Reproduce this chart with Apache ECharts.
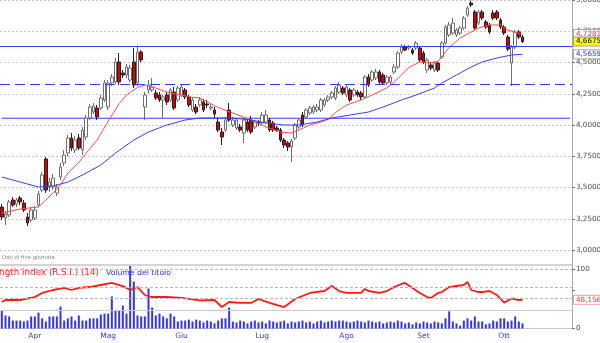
<!DOCTYPE html>
<html><head><meta charset="utf-8">
<script src="https://cdn.jsdelivr.net/npm/echarts@6/dist/echarts.min.js"></script>
<style>html,body{margin:0;padding:0;background:#fff}#c{width:600px;height:343px}</style>
</head><body><div id="c"></div>
<script>
// ---- categories ----
const startDate = '2009-03-19';
const holidays = ['2009-04-10','2009-04-13','2009-05-01'];
const totalSlots = 156;
const monthNames = ['Gen','Feb','Mar','Apr','Mag','Giu','Lug','Ago','Set','Ott','Nov','Dic'];

// ---- price ticks ----
const priceMin = 3.0, priceMax = 5.0, priceStep = 0.25;

// ---- candles [open, close, low, high] ----
const ohlc = [
[3.344,3.264,3.240,3.368],[3.256,3.288,3.200,3.312],[3.280,3.384,3.264,3.400],[3.400,3.360,3.344,3.424],
[3.368,3.400,3.344,3.416],[3.416,3.384,3.360,3.432],[3.376,3.320,3.304,3.400],[3.264,3.216,3.192,3.296],
[3.240,3.320,3.224,3.344],[3.256,3.320,3.240,3.352],[3.360,3.448,3.344,3.472],[3.480,3.600,3.464,3.624],
[3.728,3.480,3.456,3.744],[3.504,3.544,3.464,3.576],[3.504,3.576,3.480,3.608],[3.456,3.504,3.432,3.528],
[3.584,3.664,3.560,3.696],[3.696,3.760,3.672,3.800],[3.776,3.896,3.752,3.920],[3.896,3.816,3.792,3.936],
[3.800,3.880,3.776,3.912],[3.896,3.816,3.800,3.928],[3.800,3.960,3.760,3.984],[3.904,4.056,3.880,4.080],
[4.056,4.144,4.040,4.168],[4.104,4.152,4.088,4.176],[4.136,4.064,4.040,4.160],[4.136,4.216,4.120,4.240],
[4.200,4.336,4.184,4.360],[4.144,4.336,4.120,4.360],[4.336,4.384,4.312,4.408],[4.344,4.504,4.328,4.536],
[4.504,4.344,4.320,4.576],[4.416,4.400,4.376,4.440],[4.400,4.464,4.376,4.488],[4.360,4.456,4.344,4.480],
[4.504,4.320,4.296,4.616],[4.336,4.584,4.312,4.624],[4.584,4.520,4.504,4.600],[4.144,4.240,4.040,4.264],
[4.280,4.320,4.256,4.360],[4.280,4.304,4.264,4.376],[4.256,4.216,4.200,4.280],[4.240,4.200,4.184,4.264],
[4.200,4.224,4.056,4.240],[4.240,4.184,4.160,4.264],[4.200,4.280,4.184,4.296],[4.264,4.136,4.120,4.304],
[4.200,4.296,4.184,4.312],[4.240,4.304,4.224,4.328],[4.280,4.224,4.208,4.296],[4.224,4.160,4.144,4.240],
[4.120,4.200,4.104,4.216],[4.144,4.104,4.088,4.168],[4.160,4.200,4.144,4.224],[4.184,4.120,4.104,4.208],
[4.168,4.160,4.136,4.200],[4.136,4.144,4.120,4.168],[4.120,4.088,4.056,4.144],[4.024,3.960,3.944,4.056],
[3.944,3.904,3.840,3.976],[3.960,4.040,3.944,4.064],[4.120,4.040,4.024,4.176],[4.000,4.040,3.984,4.064],
[3.976,4.040,3.960,4.056],[3.984,3.960,3.944,4.008],[3.936,4.040,3.856,4.056],[4.024,3.960,3.944,4.040],
[4.040,3.944,3.928,4.072],[3.984,4.024,3.968,4.040],[4.024,4.016,3.992,4.040],[4.016,4.080,4.000,4.104],
[4.024,4.080,4.008,4.120],[4.040,3.960,3.944,4.056],[4.016,3.960,3.944,4.032],[3.976,3.960,3.944,3.992],
[3.960,3.880,3.864,3.976],[3.880,3.840,3.816,3.896],[3.856,3.824,3.792,3.872],[3.824,3.872,3.704,3.888],
[3.896,4.000,3.880,4.016],[3.984,4.040,3.968,4.056],[4.080,4.000,3.984,4.104],[4.064,4.120,4.048,4.136],
[4.096,4.136,4.080,4.152],[4.104,4.144,4.088,4.160],[4.120,4.144,4.104,4.168],[4.120,4.200,4.104,4.216],
[4.160,4.200,4.144,4.216],[4.200,4.224,4.184,4.240],[4.224,4.256,4.208,4.272],[4.216,4.296,4.200,4.312],
[4.264,4.320,4.248,4.344],[4.296,4.256,4.240,4.312],[4.240,4.304,4.224,4.328],[4.280,4.200,4.184,4.296],
[4.240,4.280,4.224,4.296],[4.264,4.240,4.224,4.280],[4.256,4.224,4.200,4.272],[4.224,4.384,4.208,4.400],
[4.384,4.320,4.304,4.408],[4.360,4.424,4.344,4.440],[4.376,4.424,4.360,4.448],[4.424,4.344,4.328,4.440],
[4.400,4.336,4.320,4.416],[4.336,4.384,4.320,4.400],[4.344,4.384,4.328,4.400],[4.424,4.464,4.408,4.488],
[4.464,4.576,4.448,4.592],[4.584,4.624,4.568,4.648],[4.624,4.600,4.592,4.640],[4.616,4.624,4.600,4.640],
[4.600,4.576,4.560,4.616],[4.616,4.656,4.600,4.672],[4.616,4.520,4.504,4.632],[4.576,4.504,4.488,4.592],
[4.440,4.520,4.416,4.536],[4.480,4.456,4.440,4.504],[4.440,4.496,4.424,4.512],[4.496,4.440,4.424,4.512],
[4.544,4.656,4.528,4.672],[4.656,4.784,4.640,4.800],[4.720,4.800,4.704,4.824],[4.736,4.816,4.720,4.856],
[4.720,4.760,4.704,4.776],[4.736,4.776,4.720,4.792],[4.776,4.856,4.760,4.872],[4.880,4.936,4.864,4.952],
[4.976,4.960,4.944,4.996],[4.904,4.776,4.760,4.920],[4.816,4.904,4.800,4.920],[4.904,4.856,4.840,4.920],
[4.824,4.784,4.768,4.840],[4.800,4.744,4.728,4.816],[4.896,4.856,4.840,4.920],[4.904,4.856,4.840,4.920],
[4.840,4.784,4.768,4.856],[4.784,4.736,4.720,4.800],[4.704,4.608,4.592,4.720],[4.496,4.624,4.312,4.640],
[4.624,4.744,4.608,4.760],[4.744,4.704,4.688,4.760],[4.704,4.6675,4.656,4.720]
];

// ---- moving averages, read at sample days [dayIndex, value] ----
const maShort = [[0,3.296],[5,3.328],[10,3.344],[12,3.40],[14,3.456],[16,3.52],[18,3.616],[21,3.70],[23,3.776],
[26,3.88],[29,4.03],[32,4.17],[34,4.24],[37,4.30],[39,4.32],[41,4.306],[45,4.264],[49,4.24],[51,4.225],[54,4.216],
[59,4.14],[63,4.096],[68,4.04],[72,3.985],[76,3.944],[79,3.936],[81,3.96],[84,4.0],[87,4.024],[89,4.045],[91,4.10],
[94,4.16],[98,4.20],[101,4.24],[105,4.296],[107,4.344],[109,4.40],[111,4.46],[114,4.504],[117,4.496],[119,4.51],
[122,4.62],[125,4.696],[128,4.744],[130,4.776],[133,4.80],[136,4.80],[138,4.76],[140,4.742],[142,4.7281]];
const maLong = [[0,3.584],[5,3.544],[10,3.504],[14,3.512],[18,3.544],[22,3.60],[27,3.68],[31,3.776],[36,3.88],
[40,3.944],[45,4.0],[50,4.04],[54,4.056],[63,4.056],[68,4.04],[72,4.016],[77,4.0],[81,4.0],[86,4.024],[90,4.056],
[95,4.08],[100,4.104],[104,4.144],[109,4.2],[113,4.24],[118,4.296],[120,4.336],[124,4.40],[128,4.464],[131,4.504],
[135,4.536],[139,4.56],[142,4.5659]];

// ---- support / resistance levels ----
const levelHigh = 4.632, levelMid = 4.326, levelLow = 4.054;

// ---- RSI (14), read at sample days ----
const rsiPts = [[0,44.5],[1,47.9],[5,47.9],[9,52.9],[11,59.7],[14,64.7],[17,68.1],[19,64.7],[21,68.1],[24,69.7],
[27,73.1],[30,76.5],[33,71.4],[35,64.7],[37,69.7],[39,56.3],[41,52.9],[45,52.9],[49,51.3],[51,49.6],[54,47.1],
[58,47.9],[60,36.1],[62,44.5],[65,42.9],[68,42.9],[70,49.6],[73,42.9],[77,36.1],[80,49.6],[84,59.7],[88,63.0],
[90,71.4],[92,63.0],[94,59.7],[98,59.7],[99,66.4],[100,63.0],[103,59.7],[105,63.0],[107,69.7],[109,74.8],[110,76.5],
[112,68.1],[114,59.7],[116,52.9],[117,51.3],[119,59.7],[120,61.3],[122,69.7],[124,71.4],[126,73.1],[127,78.2],
[128,64.7],[130,61.3],[131,61.3],[133,63.0],[135,56.3],[137,43.5],[139,50.4],[141,47.9],[142,48.156]];
const rsiLevels = [100, 70, 50];
const rsiFloor = 30;

// ---- volume (millions) ----
const volume = [
5.7,4.1,3.8,2.5,2.5,2.5,2.2,2.5,3.8,3.8,5.0,3.2,2.2,3.8,3.8,3.8,6.9,2.5,3.2,3.8,2.5,4.1,2.5,2.5,3.2,3.2,3.2,4.4,4.7,4.7,
10.1,5.7,5.7,7.2,4.7,19.8,14.8,4.1,3.8,3.8,12.6,6.6,4.1,4.7,3.8,3.2,4.7,3.8,2.2,2.5,2.5,2.8,2.2,2.8,
2.5,1.9,2.5,2.2,1.6,2.5,3.2,3.2,6.6,2.2,1.9,2.5,2.2,1.6,2.2,2.5,1.9,2.2,1.6,2.5,2.2,1.9,2.2,2.5,1.6,2.2,
1.9,2.2,2.5,1.9,2.2,1.6,2.2,2.5,1.9,2.2,2.5,2.2,2.5,2.5,2.2,1.9,2.2,2.5,2.2,1.9,2.5,
2.2,1.9,2.2,1.6,1.9,2.2,1.9,2.5,2.2,1.6,1.9,1.3,1.9,1.6,2.2,1.9,1.6,2.2,1.9,
1.6,3.2,5.4,2.2,1.6,0.9,2.5,3.2,2.5,3.8,2.2,2.2,1.3,1.6,2.5,2.2,3.2,3.2,2.2,2.5,3.8,2.2,1.6];

// ---- build ----
function tradingDays(start, n, hol) {
  const out = []; const d = new Date(start + 'T12:00:00Z');
  while (out.length < n) {
    const wd = d.getUTCDay(); const s = d.toISOString().slice(0, 10);
    if (wd !== 0 && wd !== 6 && hol.indexOf(s) < 0) out.push(s);
    d.setUTCDate(d.getUTCDate() + 1);
  }
  return out;
}
const dates = tradingDays(startDate, totalSlots, holidays);
const isMonthStart = (i) => i > 0 && dates[i] && dates[i].slice(5, 7) !== dates[i - 1].slice(5, 7);
function expand(pts) {
  const a = new Array(ohlc.length).fill(null);
  pts.forEach(p => { a[p[0]] = p[1]; });
  return a;
}
const comma = (v, d) => v.toFixed(d).replace('.', ',');
const FONT = 'DejaVu Sans';
const LEVEL_BLUE = '#3b3bf3';
const lastClose = ohlc[ohlc.length - 1][1];
const lastShort = maShort[maShort.length - 1][1];
const lastLong = maLong[maLong.length - 1][1];
const lastRsi = rsiPts[rsiPts.length - 1][1];
const rsiMax = 106.7;

function tagAxis(grid, min, max, v, dec, color, bg, border, z) {
  return { type: 'value', gridIndex: grid, position: 'right', min: min, max: max, z: z,
    axisLine: { show: false }, axisTick: { show: false }, splitLine: { show: false },
    axisLabel: { customValues: [v], formatter: () => comma(v, dec), color: color,
      backgroundColor: bg, borderColor: border, borderWidth: 1, padding: [1, 2, 0, 2],
      fontSize: 7.2, fontFamily: FONT, margin: 2 } };
}

const chart = echarts.init(document.getElementById('c'), null, { renderer: 'canvas' });
chart.setOption({
  animation: false,
  grid: [
    { left: 0, right: 28, top: 0, height: 250, outerBoundsMode: 'none', containLabel: false },
    { left: 0, right: 28, top: 265, bottom: 14.5, outerBoundsMode: 'none', containLabel: false }
  ],
  xAxis: [
    { type: 'category', gridIndex: 0, data: dates, boundaryGap: true, show: false },
    { type: 'category', gridIndex: 1, data: dates, boundaryGap: true,
      axisLine: { lineStyle: { color: '#c8c8c8' } },
      axisTick: { alignWithLabel: true, interval: (i) => isMonthStart(i), length: 4, lineStyle: { color: '#5a5ad0' } },
      axisLabel: { interval: (i) => isMonthStart(i), formatter: (v) => monthNames[+v.slice(5, 7) - 1],
        color: '#3a3ac8', fontSize: 7.5, fontFamily: FONT, margin: 4 },
      splitLine: { show: false } }
  ],
  yAxis: [
    { type: 'value', gridIndex: 0, position: 'right', min: priceMin, max: priceMax, interval: priceStep,
      axisLine: { show: true, lineStyle: { color: '#aaaaaa' } },
      axisTick: { show: true, length: 3, lineStyle: { color: '#777' } },
      axisLabel: { formatter: (v) => comma(v, 4), color: '#4a4a4a', fontSize: 7.2, fontFamily: FONT, margin: 4 },
      splitLine: { lineStyle: { color: '#c8c8c8', type: [2, 2] } } },
    { type: 'value', gridIndex: 1, position: 'right', min: 0, max: rsiMax,
      axisLine: { show: true, lineStyle: { color: '#aaaaaa' } },
      axisTick: { show: true, length: 3, customValues: [0, 63.5, 100], lineStyle: { color: '#777' } },
      axisLabel: { customValues: [0, 100], formatter: (v) => String(v), color: '#4a4a4a', fontSize: 7.2, fontFamily: FONT, margin: 4 },
      splitLine: { show: false } },
    { type: 'value', gridIndex: 1, min: 0, max: 20, show: false },
    tagAxis(0, priceMin, priceMax, lastShort, 4, '#ff3030', '#ffffff', '#aaaaaa', 3),
    tagAxis(0, priceMin, priceMax, lastClose, 4, '#000000', '#ffff00', '#999999', 4),
    tagAxis(0, priceMin, priceMax, lastLong, 4, '#3030e0', '#ffffff', '#aaaaaa', 5),
    tagAxis(1, 0, rsiMax, lastRsi, 3, '#ff3030', '#ffffff', '#f0a0a0', 3)
  ],
  series: [
    { type: 'bar', xAxisIndex: 1, yAxisIndex: 2, data: volume, barWidth: 2,
      itemStyle: { color: '#3434f0' }, silent: true },
    { type: 'line', xAxisIndex: 1, yAxisIndex: 1, data: expand(rsiPts), connectNulls: true,
      symbol: 'none', lineStyle: { color: '#ff1a1a', width: 1.8 }, silent: true, z: 3,
      markLine: { silent: true, symbol: 'none', animation: false, data: [
        { yAxis: rsiMax, label: { show: false }, lineStyle: { color: '#d4d4d4', width: 2, type: 'solid' } },
        ...rsiLevels.map(v => ({ yAxis: v, label: { show: false }, lineStyle: { color: '#bbbbbb', width: 1, type: [3, 2] } })),
        { yAxis: rsiFloor, label: { show: false }, lineStyle: { color: '#cccccc', width: 1, type: 'solid' } }
      ] } },
    { type: 'line', xAxisIndex: 0, yAxisIndex: 0, data: [], symbol: 'none', silent: true, z: 1, color: LEVEL_BLUE,
      markLine: { silent: true, symbol: 'none', animation: false, label: { show: false },
        data: [
          { yAxis: levelHigh, lineStyle: { color: LEVEL_BLUE, width: 1.2, type: 'solid' } },
          { yAxis: levelMid, lineStyle: { color: LEVEL_BLUE, width: 1.2, type: [10, 5] } }
        ] } },
    { type: 'line', xAxisIndex: 0, yAxisIndex: 0, data: dates.map(() => levelLow), symbol: 'none', silent: true, z: 1,
      lineStyle: { color: LEVEL_BLUE, width: 1.2 } },
    { type: 'candlestick', xAxisIndex: 0, yAxisIndex: 0, data: ohlc, barWidth: 3,
      itemStyle: { color: '#ffffff', color0: '#e00000', borderColor: '#6e6e6e', borderColor0: '#222222', borderWidth: 1 } },
    { type: 'line', xAxisIndex: 0, yAxisIndex: 0, data: expand(maShort), connectNulls: true,
      symbol: 'none', lineStyle: { color: '#ff4a4a', width: 1 }, silent: true },
    { type: 'line', xAxisIndex: 0, yAxisIndex: 0, data: expand(maLong), connectNulls: true,
      symbol: 'none', lineStyle: { color: '#3c3cf0', width: 1 }, silent: true }
  ],
  graphic: [
    { type: 'line', shape: { x1: 572.5, y1: 250, x2: 572.5, y2: 265 }, style: { stroke: '#aaaaaa', lineWidth: 1 } },
    { type: 'text', x: 2, y: 258, style: { text: 'Dati di fine giornata', font: '5.3px "DejaVu Sans"', fill: '#8a8a8a', textVerticalAlign: 'middle' } },
    { type: 'text', x: 99, y: 273, style: { text: 'Relative Strength index (R.S.I.) (14)', font: '8.8px "DejaVu Sans"', fill: '#ff2020', textAlign: 'right', textVerticalAlign: 'middle' } },
    { type: 'text', x: 106, y: 273, style: { text: 'Volume del titolo', font: '7.7px "DejaVu Sans"', fill: '#3030ff', textVerticalAlign: 'middle' } }
  ]
});
</script></body></html>
